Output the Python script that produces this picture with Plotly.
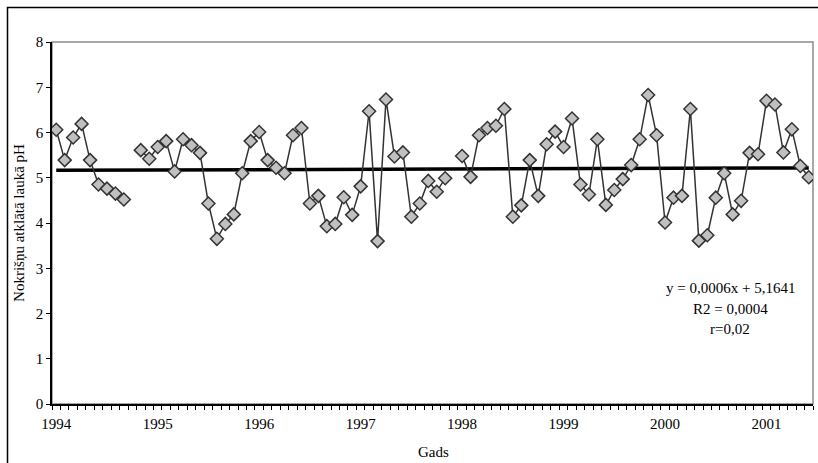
import plotly.graph_objects as go

# Monthly precipitation pH, Jan 1994 .. Jun 2001 (None = missing month)
ph_values = [
    6.06, 5.39, 5.89, 6.19, 5.39, 4.85, 4.76, 4.65, 4.52, None, 5.61, 5.42,
    5.68, 5.81, 5.14, 5.85, 5.72, 5.55, 4.43, 3.65, 3.98, 4.19, 5.10, 5.81,
    6.01, 5.39, 5.22, 5.10, 5.94, 6.10, 4.43, 4.60, 3.93, 3.98, 4.57, 4.18,
    4.81, 6.47, 3.60, 6.73, 5.47, 5.56, 4.14, 4.43, 4.93, 4.69, 4.99, None,
    5.48, 5.02, 5.94, 6.10, 6.15, 6.52, 4.14, 4.39, 5.39, 4.60, 5.74, 6.02,
    5.68, 6.31, 4.85, 4.63, 5.85, 4.40, 4.73, 4.97, 5.28, 5.85, 6.83, 5.94,
    4.01, 4.56, 4.60, 6.52, 3.61, 3.73, 4.56, 5.10, 4.19, 4.49, 5.55, 5.52,
    6.70, 6.62, 5.56, 6.07, 5.26, 5.01,
]
year_labels = ["1994", "1995", "1996", "1997", "1998", "1999", "2000", "2001"]
trend_slope = 0.0006
trend_intercept = 5.1641
equation_lines = ["y = 0,0006x + 5,1641", "R2 = 0,0004", "r=0,02"]

month_idx = list(range(len(ph_values)))
year_pos = [12 * k for k in range(len(year_labels))]

FONT = "Liberation Serif, Times New Roman, serif"
FS = 15

fig = go.Figure()

# trend line (Excel x = 1..n)
tx = [month_idx[0], month_idx[-1]]
ty = [trend_slope * (v + 1) + trend_intercept for v in tx]
fig.add_trace(go.Scatter(
    x=tx, y=ty, mode="lines",
    line=dict(color="black", width=3.5),
    hoverinfo="skip", showlegend=False,
))

fig.add_trace(go.Scatter(
    x=month_idx, y=ph_values, mode="lines+markers",
    connectgaps=False,
    line=dict(color="#333333", width=1.5),
    marker=dict(symbol="diamond", size=10, color="#C0C0C0",
                line=dict(color="#333333", width=1.5)),
    showlegend=False,
))

shapes = [
    # gray plot-area border
    dict(type="rect", xref="paper", yref="paper", x0=0, y0=0, x1=1, y1=1,
         line=dict(color="#8c8c8c", width=1.5), layer="below"),
    # outer chart-area border (cropped at right/bottom)
    dict(type="rect", xref="paper", yref="paper",
         x0=(7.5 - 52) / 761, x1=(830 - 52) / 761,
         y0=(404 - 475) / 362, y1=(404 - 7.5) / 362,
         line=dict(color="black", width=1.5), layer="below"),
]

annotations = []
for k, txt in enumerate(equation_lines):
    annotations.append(dict(
        xref="paper", yref="paper",
        x=(730 - 52) / 761, y=(404 - (288 + 20.5 * k)) / 362,
        text=txt, showarrow=False, xanchor="center", yanchor="middle",
        font=dict(family=FONT, size=FS, color="black"),
    ))
# x-axis title
annotations.append(dict(
    xref="paper", yref="paper",
    x=(433 - 52) / 761, y=(404 - 452) / 362,
    text="Gads", showarrow=False, xanchor="center", yanchor="middle",
    font=dict(family=FONT, size=FS, color="black"),
))

fig.update_layout(
    width=818, height=463,
    margin=dict(l=52, r=5, t=42, b=59),
    paper_bgcolor="white", plot_bgcolor="white",
    font=dict(family=FONT, size=FS, color="black"),
    shapes=shapes, annotations=annotations,
    xaxis=dict(
        range=[-0.5, len(ph_values) - 0.5],
        tickmode="array", tickvals=year_pos, ticktext=year_labels,
        ticks="", showgrid=False, zeroline=False,
        showline=True, linecolor="black", linewidth=1.5,
        minor=dict(ticks="outside", tick0=-0.5, dtick=1, ticklen=4,
                   tickcolor="black", tickwidth=1, showgrid=False),
        tickfont=dict(family=FONT, size=FS),
        ticklabelstandoff=5,
        automargin=False,
    ),
    yaxis=dict(
        range=[0, 8], dtick=1, tick0=0,
        ticks="outside", ticklen=4, tickcolor="black",
        showgrid=False, zeroline=False,
        showline=True, linecolor="black", linewidth=1.5,
        tickfont=dict(family=FONT, size=FS),
        title=dict(text="Nokrišņu atklātā laukā pH",
                   font=dict(family=FONT, size=FS), standoff=8),
        automargin=False,
    ),
)

fig.write_html("out.html")
